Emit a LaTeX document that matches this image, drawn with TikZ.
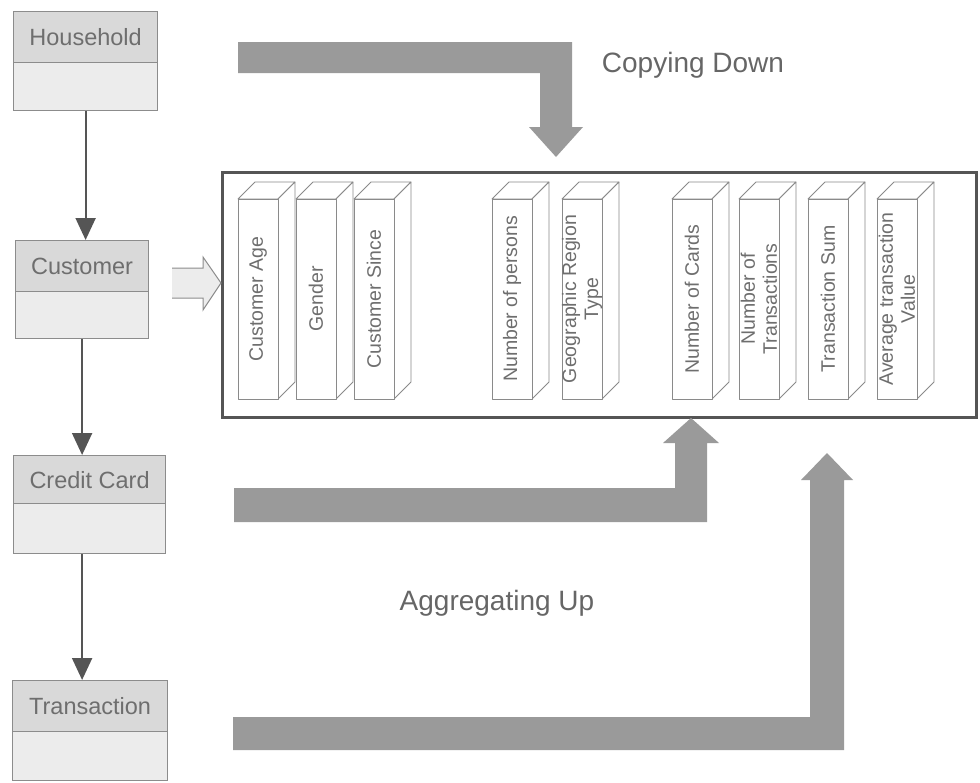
\documentclass[tikz,border=0pt]{standalone}
\usepackage{fontspec}
\setmainfont{Liberation Sans}
\usetikzlibrary{arrows.meta}
\definecolor{txt}{HTML}{6E6E6E}
\definecolor{hdrfill}{HTML}{D9D9D9}
\definecolor{bodyfill}{HTML}{ECECEC}
\definecolor{entline}{HTML}{8C8C8C}
\definecolor{bigarrow}{HTML}{9A9A9A}
\definecolor{boxline}{HTML}{555555}
\definecolor{colline}{HTML}{8A8A8A}
\tikzset{
  hdr/.style={draw=entline, fill=hdrfill, line width=1.2pt, inner sep=0pt, anchor=north west,
    text=txt, font=\fontsize{23.5}{27}\selectfont},
  entbody/.style={draw=entline, fill=bodyfill, line width=1.2pt, inner sep=0pt, anchor=north west},
  conn/.style={draw=boxline, line width=2pt, -{Triangle[length=22pt,width=20pt]}},
  bigarr/.style={fill=bigarrow, draw=none},
  colface/.style={draw=colline, fill=white, line width=0.8pt, line join=round},
  coltext/.style={rotate=90, text=txt, align=center, inner sep=0pt,
    font=\fontsize{19.5}{22}\selectfont},
  lbl/.style={text=txt, font=\fontsize{28}{32}\selectfont, inner sep=0pt}
}
\begin{document}
\begin{tikzpicture}[x=1pt,y=-1pt]
\useasboundingbox (0,0) rectangle (980,782);

% entity boxes
\node[hdr, minimum width=144, minimum height=51] (household) at (13,11) {Household};
\node[entbody, minimum width=144, minimum height=48] (household-b) at (13,62) {};
\node[hdr, minimum width=133, minimum height=51] (customer) at (15,240) {Customer};
\node[entbody, minimum width=133, minimum height=47] (customer-b) at (15,291) {};
\node[hdr, minimum width=152, minimum height=48] (credit) at (13,455) {Credit Card};
\node[entbody, minimum width=152, minimum height=50] (credit-b) at (13,503) {};
\node[hdr, minimum width=155, minimum height=51] (transaction) at (12,680) {Transaction};
\node[entbody, minimum width=155, minimum height=49] (transaction-b) at (12,731) {};

% connectors
\draw[conn] (household-b.south) -- (household-b.south |- customer.north);
\draw[conn] (customer-b.south) -- (customer-b.south |- credit.north);
\draw[conn] (credit-b.south -| customer-b.south) -- (customer-b.south |- transaction.north);

% big target box
\node[draw=boxline, line width=3pt, fill=white, inner sep=0pt, anchor=north west,
  minimum width=754, minimum height=245] (target) at (221,171) {};

% hollow arrow from customer
\fill[bodyfill] (172,268) -- (203,268) -- (203,257) -- (target.west |- 0,283) -- (203,310) -- (203,298) -- (172,298) -- cycle;
\draw[draw=entline, line width=1pt, line join=miter]
  (172,268) -- (203,268) -- (203,257) -- (target.west |- 0,283) -- (203,310) -- (203,298) -- (172,298);

% columns
\foreach \x/\n/\t in {238/age/Customer Age, 296/gender/Gender, 354/since/Customer Since,
  492/persons/Number of persons, 562/geo/{Geographic Region\\Type},
  672/cards/Number of Cards, 739/ntrans/{Number of\\Transactions},
  808/tsum/Transaction Sum, 877/avg/{Average transaction\\Value}}{
  \draw[colface] (\x,199) -- (\x+17,182) -- (\x+57,182) -- (\x+40,199) -- cycle;
  \draw[colface] (\x+40,199) -- (\x+57,182) -- (\x+57,382) -- (\x+40,399) -- cycle;
  \draw[colface] (\x,199) rectangle (\x+40,399);
  \node[coltext] (col-\n) at (\x+20,299) {\t};
}

% big arrows
\fill[bigarr] (238,42) -- (572,42) -- (572,127) -- (583,127) -- (556,157) -- (529,127) -- (540,127) -- (540,73) -- (238,73) -- cycle;
\fill[bigarr] (234,488) -- (675,488) -- (675,443) -- (663,443) -- (691,418) -- (719,443) -- (707,443) -- (707,522) -- (234,522) -- cycle;
\fill[bigarr] (233,717) -- (810,717) -- (810,480) -- (801,480) -- (827,453) -- (853,480) -- (844,480) -- (844,750) -- (233,750) -- cycle;

% labels
\node[lbl, text=boxline!90] (copy) at (693,65) {Copying Down};
\node[lbl, text=boxline!90] (agg) at (497,603) {Aggregating Up};
\end{tikzpicture}
\end{document}
